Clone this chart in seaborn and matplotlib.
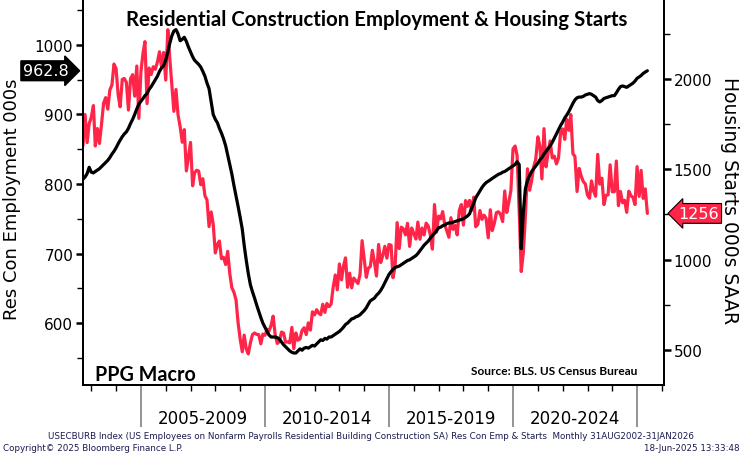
import pandas as pd
import seaborn as sns
import matplotlib.pyplot as plt
import matplotlib.transforms as mtransforms

# --- Datos (mensual, AGO-2002 a MAY-2025) ---
emp_2002 = [807, 810, 815, 824, 817]
emp_2003 = [816, 818, 820, 822, 825, 828, 831, 834, 838, 843, 847, 852]
emp_2004 = [858, 863, 868, 872, 875, 880, 887, 893, 900, 908, 915, 919]
emp_2005 = [923, 927, 930, 936, 940, 945, 950, 955, 962, 967, 970, 978]
emp_2006 = [990, 1002, 1013, 1020, 1022, 1016, 1006, 1008, 1011, 1005, 997, 990]
emp_2007 = [983, 978, 975, 972, 968, 962, 955, 945, 937, 918, 900, 893]
emp_2008 = [888, 880, 873, 865, 855, 842, 828, 814, 798, 783, 768, 752]
emp_2009 = [735, 712, 690, 671, 655, 645, 636, 626, 617, 608, 600, 594]
emp_2010 = [588, 583, 580, 580, 580, 579, 577, 573, 569, 566, 563, 560]
emp_2011 = [558, 557, 557, 560, 563, 561, 564, 565, 564, 566, 568, 567]
emp_2012 = [570, 573, 576, 575, 578, 577, 580, 580, 582, 584, 586, 588]
emp_2013 = [591, 594, 598, 600, 603, 606, 607, 609, 610, 612, 615, 618]
emp_2014 = [622, 627, 632, 634, 636, 640, 643, 647, 652, 658, 664, 670]
emp_2015 = [674, 677, 680, 681, 682, 684, 686, 688, 690, 691, 693, 695]
emp_2016 = [697, 700, 704, 708, 712, 715, 718, 722, 726, 729, 733, 737]
emp_2017 = [738, 740, 741, 743, 744, 744, 745, 746, 747, 748, 749, 750]
emp_2018 = [752, 754, 757, 765, 772, 780, 785, 790, 795, 799, 802, 804]
emp_2019 = [806, 808, 810, 812, 814, 815, 817, 818, 820, 822, 824, 826]
emp_2020 = [828, 832, 828, 707, 760, 793, 805, 812, 818, 822, 826, 830]
emp_2021 = [835, 838, 843, 847, 851, 855, 860, 866, 872, 878, 884, 889]
emp_2022 = [895, 899, 904, 910, 916, 921, 924, 925, 925, 926, 928, 929]
emp_2023 = [930, 929, 927, 925, 920, 918, 920, 923, 924, 925, 926, 927]
emp_2024 = [927, 931, 936, 940, 941, 940, 939, 941, 943, 945, 948, 952]
emp_2025 = [954, 956, 959, 961, 962.8]

hs_2002 = [1633, 1804, 1648, 1753, 1788]
hs_2003 = [1853, 1629, 1726, 1643, 1751, 1867, 1897, 1833, 1939, 1967, 2083, 2057]
hs_2004 = [1911, 1846, 1998, 2003, 1981, 1828, 2002, 2024, 1905, 2072, 1782, 2042]
hs_2005 = [2144, 2207, 1864, 2061, 2025, 2068, 2054, 2095, 2151, 2065, 2147, 1994]
hs_2006 = [2273, 2119, 1969, 1821, 1942, 1802, 1737, 1650, 1720, 1491, 1570, 1649]
hs_2007 = [1409, 1480, 1495, 1490, 1415, 1448, 1354, 1330, 1183, 1264, 1197, 1037]
hs_2008 = [1084, 1103, 1005, 1013, 973, 1046, 923, 844, 820, 777, 652, 560]
hs_2009 = [490, 582, 505, 478, 540, 585, 594, 586, 585, 534, 588, 581]
hs_2010 = [614, 604, 636, 687, 583, 536, 546, 599, 594, 543, 545, 539]
hs_2011 = [625, 507, 594, 554, 561, 608, 623, 585, 650, 610, 711, 694]
hs_2012 = [723, 704, 695, 753, 708, 757, 740, 754, 847, 915, 833, 976]
hs_2013 = [888, 962, 1010, 847, 925, 844, 898, 883, 868, 919, 1105, 1003]
hs_2014 = [902, 952, 962, 1052, 985, 909, 1084, 984, 1022, 1074, 1008, 1084]
hs_2015 = [1080, 900, 963, 1205, 1061, 1180, 1170, 1137, 1201, 1073, 1175, 1146]
hs_2016 = [1114, 1208, 1113, 1175, 1137, 1202, 1186, 1136, 1058, 1305, 1152, 1241]
hs_2017 = [1226, 1266, 1194, 1159, 1124, 1232, 1168, 1189, 1137, 1273, 1305, 1191]
hs_2018 = [1327, 1295, 1328, 1272, 1346, 1182, 1196, 1272, 1223, 1246, 1228, 1121]
hs_2019 = [1276, 1161, 1201, 1260, 1265, 1251, 1211, 1380, 1261, 1320, 1383, 1613]
hs_2020 = [1629, 1577, 1269, 934, 1038, 1241, 1503, 1384, 1438, 1514, 1557, 1680]
hs_2021 = [1625, 1447, 1725, 1514, 1594, 1657, 1563, 1573, 1530, 1563, 1703, 1724]
hs_2022 = [1666, 1777, 1716, 1803, 1586, 1571, 1377, 1505, 1463, 1432, 1419, 1357]
hs_2023 = [1340, 1436, 1380, 1351, 1583, 1418, 1451, 1305, 1356, 1359, 1525, 1376]
hs_2024 = [1376, 1546, 1299, 1377, 1315, 1329, 1262, 1379, 1355, 1344, 1305, 1515]
hs_2025 = [1350, 1494, 1339, 1392, 1256]

employment = (emp_2002 + emp_2003 + emp_2004 + emp_2005 + emp_2006 + emp_2007 + emp_2008
              + emp_2009 + emp_2010 + emp_2011 + emp_2012 + emp_2013 + emp_2014 + emp_2015
              + emp_2016 + emp_2017 + emp_2018 + emp_2019 + emp_2020 + emp_2021 + emp_2022
              + emp_2023 + emp_2024 + emp_2025)
starts = (hs_2002 + hs_2003 + hs_2004 + hs_2005 + hs_2006 + hs_2007 + hs_2008 + hs_2009
          + hs_2010 + hs_2011 + hs_2012 + hs_2013 + hs_2014 + hs_2015 + hs_2016 + hs_2017
          + hs_2018 + hs_2019 + hs_2020 + hs_2021 + hs_2022 + hs_2023 + hs_2024 + hs_2025)

period_labels = ['2005-2009', '2010-2014', '2015-2019', '2020-2024']
period_starts = [2005, 2010, 2015, 2020]

dates = pd.date_range('2002-08-31', periods=len(employment), freq='ME')
df = pd.DataFrame({'date': dates, 'emp': employment, 'starts': starts})

red = '#ff2548'

sns.set_style('ticks')
plt.rcParams['font.family'] = ['DejaVu Sans']
plt.rcParams.update({'text.color': 'black', 'axes.labelcolor': 'black',
                     'xtick.color': 'black', 'ytick.color': 'black'})

fig = plt.figure(figsize=(7.43, 4.56), dpi=100)
ax = fig.add_axes([83 / 743, 1 - 386 / 456, (664 - 83) / 743, 386 / 456])
ax2 = ax.twinx()

sns.lineplot(data=df, x='date', y='starts', ax=ax2, color=red, lw=2.3)
sns.lineplot(data=df, x='date', y='emp', ax=ax, color='black', lw=2.3)
ax.set_zorder(ax2.get_zorder() + 1)
ax.patch.set_visible(False)

ax.set_xlim(pd.Timestamp('2002-08-31'), pd.Timestamp('2026-01-31'))
ax.set_ylim(511, 1066)
ax2.set_ylim(306, 2443)

for a in (ax, ax2):
    a.spines['top'].set_visible(False)
    for s in ('left', 'right', 'bottom'):
        a.spines[s].set_visible(True)
        a.spines[s].set_linewidth(1.4)
        a.spines[s].set_color('black')
    a.set_xlabel('')
    a.set_ylabel('')

ax.set_yticks(range(600, 1001, 100))
ax.set_yticks(range(550, 1051, 50), minor=True)
ax2.set_yticks(range(500, 2001, 500))
ax2.set_yticks(range(750, 2251, 500), minor=True)
ax.tick_params(axis='y', which='major', left=True, right=False, direction='out',
               length=5, width=1.8, labelsize=11, pad=2)
ax.tick_params(axis='y', which='minor', left=True, right=False, direction='out', length=4, width=1)
ax2.tick_params(axis='y', which='major', right=True, left=False, direction='out',
                length=5, width=1.8, labelsize=11, pad=2)
ax2.tick_params(axis='y', which='minor', right=True, left=False, direction='out', length=4, width=1)

ax.set_xticks([pd.Timestamp(f'{y}-01-01') for y in range(2005, 2026, 5)])
ax.set_xticks([pd.Timestamp(f'{y}-01-01') for y in range(2003, 2027)], minor=True)
ax.set_xticklabels([])
ax.tick_params(axis='x', which='major', bottom=True, direction='out', length=30, width=1.2,
               color='#808080')
ax.tick_params(axis='x', which='minor', bottom=True, direction='out', length=4, width=1,
               color='black')
ax2.tick_params(axis='x', which='both', length=0)

xt = ax.get_xaxis_transform()
for s, lab in zip(period_starts, period_labels):
    ax.text(pd.Timestamp(f'{s + 2}-07-02'), -0.085, lab, transform=xt,
            ha='center', va='center', fontsize=12)

fig.text(12 / 743, 1 - 199 / 456, 'Res Con Employment 000s', rotation=90,
         ha='center', va='center', fontsize=13)
fig.text(730 / 743, 1 - 201 / 456, 'Housing Starts 000s SAAR', rotation=-90,
         ha='center', va='center', fontsize=13.5)

# Etiquetas de último valor
ty = mtransforms.blended_transform_factory(ax.transAxes, ax.transData)
ax.text(-0.024, employment[-1], f'{employment[-1]:.1f}', transform=ty, ha='right', va='center',
        color='white', fontsize=11.5,
        bbox=dict(boxstyle='rarrow,pad=0.15', fc='black', ec='black'), clip_on=False)
ty2 = mtransforms.blended_transform_factory(ax2.transAxes, ax2.transData)
ax2.text(1.025, starts[-1], f'{starts[-1]}', transform=ty2, ha='left', va='center',
         color='white', fontsize=11.5,
         bbox=dict(boxstyle='larrow,pad=0.15', fc=red, ec='black', lw=0.8), clip_on=False)

fig.text(377 / 743, 1 - 20 / 456, 'Residential Construction Employment & Housing Starts',
         ha='center', va='center', fontsize=14.7, fontweight='bold', family='Lato')
ax.text(95 / 743, 1 - 375 / 456, 'PPG Macro', transform=fig.transFigure,
        ha='left', va='center', fontsize=14.2, fontweight='bold', family='Lato')
ax.text(637 / 743, 1 - 372 / 456, 'Source: BLS. US Census Bureau', transform=fig.transFigure,
        ha='right', va='center', fontsize=8.6, fontweight='bold', family='Lato')

fig.text(371 / 743, 1 - 437 / 456,
         'USECBURB Index (US Employees on Nonfarm Payrolls Residential Building Construction SA) '
         'Res Con Emp & Starts  Monthly 31AUG2002-31JAN2026',
         ha='center', va='center', fontsize=6.3, color='#1a1a50')
fig.text(3 / 743, 1 - 449 / 456, 'Copyright\u00a9 2025 Bloomberg Finance L.P.',
         ha='left', va='center', fontsize=6.3, color='#1a1a50')
fig.text(740 / 743, 1 - 449 / 456, '18-Jun-2025 13:33:48',
         ha='right', va='center', fontsize=6.3, color='#1a1a50')

fig.savefig('out.png', dpi=100)
